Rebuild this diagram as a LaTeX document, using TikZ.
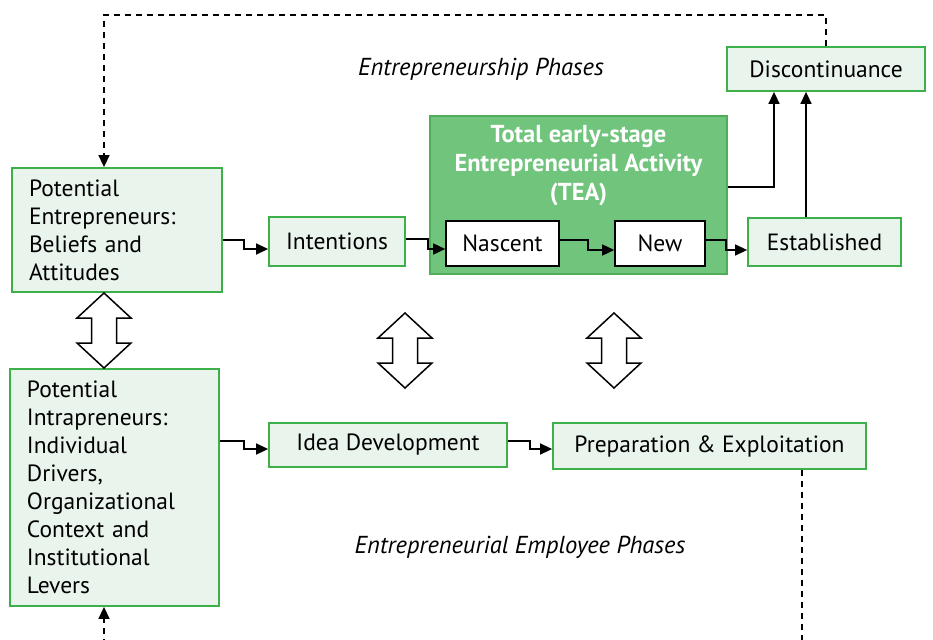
\documentclass[tikz,border=0pt]{standalone}
\usepackage{fontspec}
\setmainfont{PT Sans}
\usetikzlibrary{arrows.meta}
\definecolor{lightg}{HTML}{E9F4EC}
\definecolor{bordg}{HTML}{3EB049}
\definecolor{teag}{HTML}{70C47C}
\definecolor{teab}{HTML}{4DAE57}
\tikzset{
  box/.style={draw=bordg, line width=1.8pt, fill=lightg, inner sep=0pt, font=\fontsize{23.5}{28}\selectfont},
  wbox/.style={draw=black, line width=1.6pt, fill=white, inner sep=0pt, font=\fontsize{23.5}{28}\selectfont},
  conn/.style={line width=1.5pt, -{Triangle[length=12pt,width=11pt]}},
  dconn/.style={line width=1.5pt, dash pattern=on 6pt off 5pt},
  dbl/.style={draw=black, line width=1.5pt, fill=white, line join=miter},
  phase/.style={font=\fontsize{24.5}{28}\selectfont\itshape}
}
\newcommand{\dblarrow}[3]{% cx, top, bottom
  \path[dbl] (#1,#2) -- (#1+27,#2+25) -- (#1+12.5,#2+25) -- (#1+12.5,#3-25) -- (#1+27,#3-25)
   -- (#1,#3) -- (#1-27,#3-25) -- (#1-12.5,#3-25) -- (#1-12.5,#2+25) -- (#1-27,#2+25) -- cycle;}
\begin{document}
\begin{tikzpicture}[x=1pt,y=-1pt]
\useasboundingbox (0,0) rectangle (933,639);
\fill[white] (0,0) rectangle (933,639);
\begin{scope}
\clip (0,0) rectangle (933,639);
% boxes
\node[box, minimum width=210pt, minimum height=124pt, align=left, text width=176pt] (pe) at (117,230) {Potential\\Entrepreneurs:\\Beliefs and\\Attitudes};
\node[box, minimum width=136pt, minimum height=49pt] (int) at (337,241.5) {Intentions};
\node[draw=teab, line width=1.8pt, fill=teag, minimum width=297pt, minimum height=158pt] (tea) at (578.5,195) {};
\node[font=\fontsize{24.5}{29}\selectfont\bfseries, text=white, align=center, anchor=north] (teat) at (578.5,122) {Total early-stage\\Entrepreneurial Activity\\(TEA)};
\node[wbox, minimum width=113pt, minimum height=45pt] (nas) at (502.5,243.5) {Nascent};
\node[wbox, minimum width=90pt, minimum height=45pt] (new) at (660,243.5) {New};
\node[box, minimum width=153pt, minimum height=48pt] (est) at (824.5,242) {Established};
\node[box, minimum width=198pt, minimum height=44pt] (dis) at (826,69) {Discontinuance};
\node[box, minimum width=209pt, minimum height=237pt, align=left, text width=175pt] (pi) at (114.5,487.5) {Potential\\Intrapreneurs:\\Individual\\Drivers,\\Organizational\\Context and\\Institutional\\Levers};
\node[box, minimum width=238pt, minimum height=44pt] (idea) at (388,445) {Idea Development};
\node[box, minimum width=313pt, minimum height=46pt] (prep) at (709.5,446) {Preparation \& Exploitation};
% phase labels
\node[phase] (ep) at (481,69) {Entrepreneurship Phases};
\node[phase] (eep) at (520,547) {Entrepreneurial Employee Phases};
% step connectors
\draw[conn] (pe.east |- 0,240) -- (244,240) |- (int.west |- 0,249);
\draw[conn] (int.east |- 0,239) -- (428,239) |- (nas.west |- 0,249);
\draw[conn] (nas.east |- 0,240) -- (588,240) |- (new.west |- 0,250);
\draw[conn] (new.east |- 0,240) -- (726,240) |- (est.west |- 0,250);
\draw[conn] (pi.east |- 0,441) -- (244,441) |- (idea.west |- 0,449);
\draw[conn] (idea.east |- 0,441) -- (530,441) |- (prep.west |- 0,449);
% to discontinuance
\draw[conn] (tea.east |- 0,187) -| (dis.south -| 774,0);
\draw[conn] (est.north -| 806,0) -- (dis.south -| 806,0);
% dashed feedback
\draw[dconn] (dis.north -| 826,0) -- (826,15) -- (104,15) -- (104,157);
\draw[conn] (104,156) -- (pe.north -| 104,0);
\draw[dconn] (prep.south -| 802,0) -- (802,645);
\draw[dconn] (104,645) -- (104,618);
\draw[conn] (104,618) -- (pi.south -| 104,0);
% double arrows
\dblarrow{104}{293}{368}
\dblarrow{405}{313}{388}
\dblarrow{614}{313}{388}
\end{scope}
\end{tikzpicture}
\end{document}
